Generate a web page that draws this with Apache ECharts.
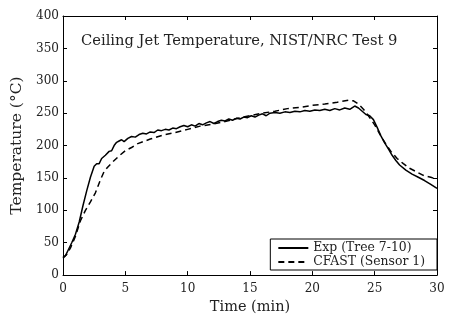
<!DOCTYPE html>
<html>
<head>
<meta charset="utf-8">
<script src="https://cdn.jsdelivr.net/npm/echarts@6/dist/echarts.min.js"></script>
<style>html,body{margin:0;padding:0;background:#fff}#c{width:452px;height:320px}</style>
</head>
<body>
<div id="c"></div>
<script>
var titleText = 'Ceiling Jet Temperature, NIST/NRC Test 9';
var xName = 'Time (min)';
var yName = 'Temperature (\u00B0C)';
var seriesNames = ['Exp (Tree 7-10)', 'CFAST (Sensor 1)'];
var xTicks = [0, 5, 10, 15, 20, 25, 30];
var yTicks = [0, 50, 100, 150, 200, 250, 300, 350, 400];

var expTime = [0,0.2,0.4,0.7,1.0,1.3,1.6,1.9,2.2,2.5,2.7,2.9,3.1,3.4,3.7,3.9,4.1,4.3,4.5,4.7,4.9,5.2,5.5,5.8,6.1,6.4,6.7,7.0,7.3,7.6,7.9,8.2,8.5,8.8,9.1,9.4,9.7,10.0,10.3,10.6,10.9,11.2,11.5,11.8,12.1,12.4,12.7,13.0,13.3,13.6,13.9,14.2,14.5,14.8,15.1,15.4,15.7,16.0,16.3,16.6,17.0,17.4,17.8,18.2,18.6,19.0,19.4,19.8,20.2,20.6,21.0,21.4,21.8,22.2,22.6,23.0,23.4,23.7,24.0,24.3,24.6,24.9,25.2,25.5,25.8,26.1,26.4,26.7,27.0,27.5,28.0,28.5,29.0,29.5,30.0];
var expTemp = [28,30,38,50,63,82,107,130,151,168,172,172,180,185,191,192,200,205,207,209,206,211,214,213,217,219,218,221,220,224,223,225,224,227,226,229,231,229,232,230,234,232,235,237,234,237,239,238,241,239,242,241,244,243,246,244,247,249,246,250,251,250,252,251,253,252,254,253,255,254,256,254,257,255,258,256,261,258,253,248,246,240,228,215,204,195,185,177,170,162,156,151,146,140,134];

var cfastTime = [0,0.3,0.6,1.0,1.4,1.8,2.2,2.6,3.0,3.3,3.6,4.0,4.5,5.0,5.5,6.0,7.0,8.0,9.0,10.0,11.0,12.0,13.0,14.0,15.0,16.0,17.0,18.0,19.0,20.0,21.0,22.0,22.9,23.3,23.7,24.1,24.5,25.0,25.4,25.9,26.3,26.8,27.3,27.8,28.4,28.9,29.5,30.0];
var cfastTemp = [26,32,42,60,84,100,113,127,147,160,167,175,184,192,197,203,210,216,220,225,230,233,237,242,246,250,253,257,259,262,264,267,270,269,264,256,246,232,218,202,191,180,172,165,159,154,151,148];

function pairs(xs, ys) { return xs.map(function (x, i) { return [x, ys[i]]; }); }

var serif = 'DejaVu Serif';

var chart = echarts.init(document.getElementById('c'), null, {renderer: 'canvas'});
var axisCommon = {
  type: 'value',
  axisLine: {show: true, onZero: false, lineStyle: {color: '#000', width: 1}},
  axisTick: {show: true, inside: true, length: 4, lineStyle: {color: '#000'}},
  splitLine: {show: false}
};
chart.setOption({
  animation: false,
  backgroundColor: '#fff',
  title: {
    text: titleText, left: 81, top: 34, padding: 0,
    textStyle: {fontFamily: serif, fontWeight: 'normal', fontSize: 14.7, color: '#222'}
  },
  grid: {left: 63, right: 15, top: 16, bottom: 42.5, containLabel: false},
  legend: {
    data: seriesNames, orient: 'vertical', right: 15, bottom: 50,
    borderColor: '#000', borderWidth: 1, borderRadius: 0, padding: [3, 12, 2, 7],
    itemWidth: 30, itemHeight: 14, itemGap: 2, backgroundColor: '#fff',
    itemStyle: {opacity: 0},
    textStyle: {fontFamily: serif, fontSize: 12.4, color: '#222'}
  },
  xAxis: [
    Object.assign({}, axisCommon, {
      min: 0, max: 30, interval: 5, position: 'bottom',
      name: xName, nameLocation: 'middle', nameGap: 22,
      nameTextStyle: {fontFamily: serif, fontSize: 14.5, color: '#222', verticalAlign: 'top'},
      axisLabel: {margin: 8, fontFamily: serif, fontSize: 12, color: '#222'}
    }),
    Object.assign({}, axisCommon, {
      min: 0, max: 30, interval: 5, position: 'top', axisLabel: {show: false}
    })
  ],
  yAxis: [
    Object.assign({}, axisCommon, {
      min: 0, max: 400, interval: 50, position: 'left',
      name: yName, nameLocation: 'middle', nameGap: 36,
      nameTextStyle: {fontFamily: serif, fontSize: 15.5, color: '#222'},
      axisLabel: {margin: 4, fontFamily: serif, fontSize: 12, color: '#222'}
    }),
    Object.assign({}, axisCommon, {
      min: 0, max: 400, interval: 50, position: 'right', axisLabel: {show: false}
    })
  ],
  series: [
    {
      name: seriesNames[0], type: 'line', data: pairs(expTime, expTemp),
      showSymbol: false, symbol: 'none', smooth: false,
      lineStyle: {color: '#000', width: 1.5, type: 'solid'},
      itemStyle: {color: '#000'}
    },
    {
      name: seriesNames[1], type: 'line', data: pairs(cfastTime, cfastTemp),
      showSymbol: false, symbol: 'none', smooth: false,
      lineStyle: {color: '#000', width: 1.5, type: [6, 4]},
      itemStyle: {color: '#000'}
    }
  ]
});
</script>
</body>
</html>
